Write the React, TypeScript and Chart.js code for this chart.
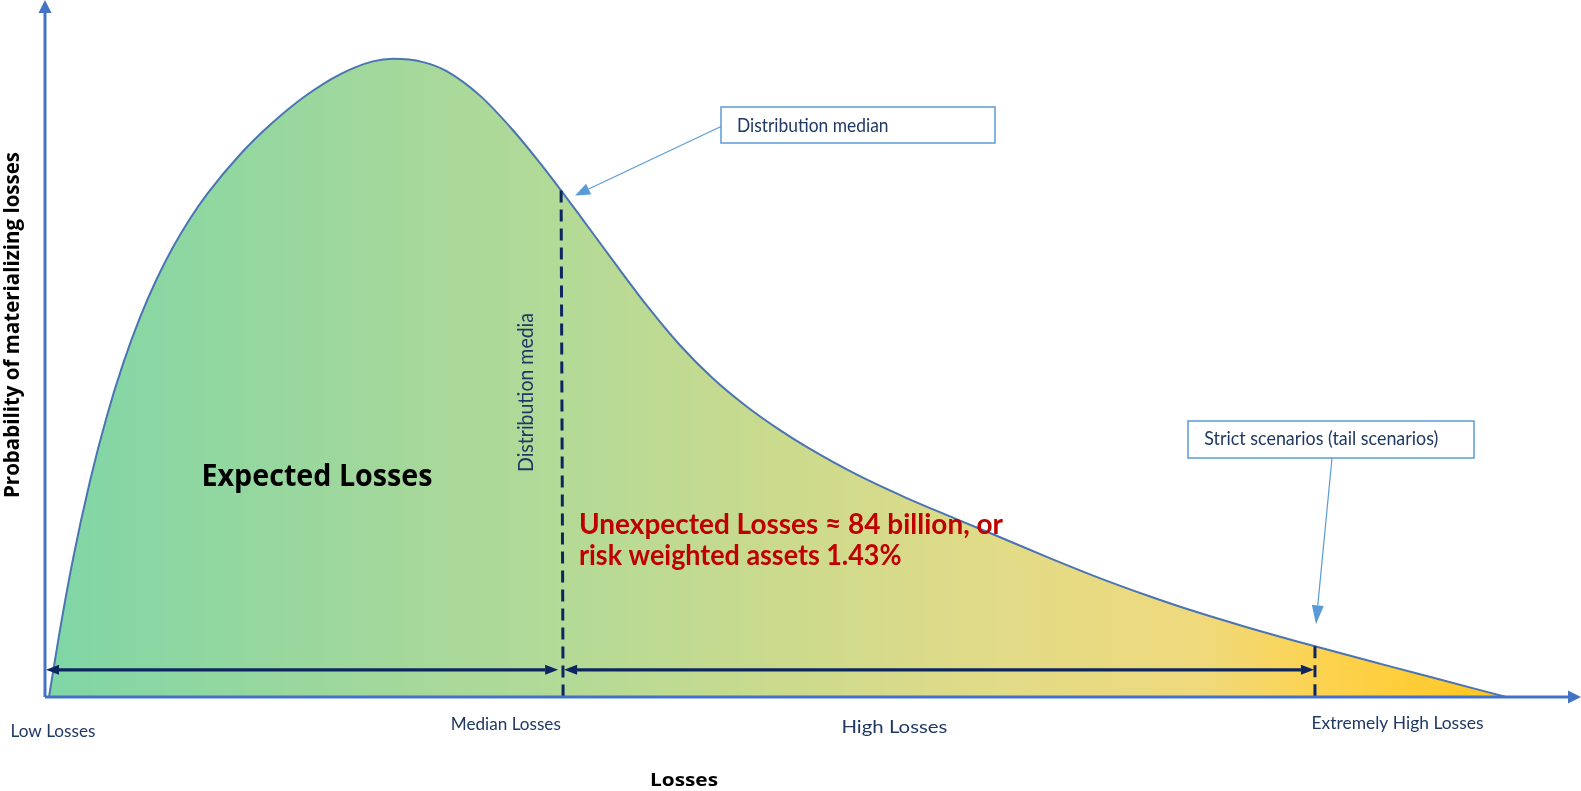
import React, { useEffect, useRef } from "react";
import { Chart, registerables } from "chart.js";

Chart.register(...registerables);

// ---- Data (loss level vs. probability of materializing losses) ----
const lossLevels = [
  0.26, 0.98, 1.82, 2.93, 4.04, 5.08, 6.18, 7.29, 8.33, 9.44, 10.55, 12.7, 14.84, 17.06, 19.21, 21.35, 22.66,
  24.61, 26.17, 28.32, 30.47, 32.23, 33.53, 34.83, 36.98, 39.19, 41.34, 43.49, 45.7, 47.85, 49.67, 52.86,
  55.99, 59.18, 62.3, 65.49, 68.62, 71.81, 74.93, 78.13, 82.68, 87.57, 90.76, 95.12,
];
const lossProbability = [
  0, 9.7, 19.77, 30.99, 40.39, 47.79, 54.43, 60.04, 64.52, 68.61, 72.15, 77.83, 82.45, 86.4, 89.34, 91.19, 91.56,
  91.09, 89.77, 86.28, 81.31, 76.59, 72.88, 69.04, 62.6, 56.15, 50.47, 45.7, 41.65, 38.29, 35.77, 31.89,
  28.65, 25.67, 22.81, 19.86, 17.1, 14.53, 12.22, 10.09, 7.27, 4.39, 2.54, 0,
];
const tickLabels = ["Low Losses", "Median Losses", "High Losses", "Extremely High Losses"];
const tickLosses = [0.52, 30.0, 55.3, 88.05];
const medianLoss = 33.6;
const tailLoss = 82.68;
const arrowLevel = 3.9;

const xAxisTitle = "Losses";
const yAxisTitle = "Probability of materializing losses";
const expectedLabel = "Expected Losses";
const unexpectedLines = ["Unexpected Losses \u2248 84 billion, or", "risk weighted assets 1.43%"];
const medianLineLabel = "Distribution media";
const medianCallout = "Distribution median";
const tailCallout = "Strict scenarios (tail scenarios)";

// ---- Styles ----
const W = 1581;
const H = 791;
const AXIS = "#4472C4";
const NAVY = "#0E2660";
const LABEL = "#1F3864";
const CALLOUT = "#5B9BD5";
const RED = "#C00000";
const LATO = "Lato, 'Open Sans', sans-serif";
const OPEN = "'Open Sans', Lato, sans-serif";
const tickStyle = [
  { width: 85, baseline: 736.5 },
  { width: 110, baseline: 730 },
  { width: 106, baseline: 733 },
  { width: 172, baseline: 728.5 },
];

function curveAt(x: number): number {
  for (let i = 0; i < lossLevels.length - 1; i++) {
    const a = lossLevels[i];
    const b = lossLevels[i + 1];
    if (x >= a && x <= b) {
      const t = (x - a) / (b - a);
      return lossProbability[i] + t * (lossProbability[i + 1] - lossProbability[i]);
    }
  }
  return 0;
}

type TextOpts = {
  size: number;
  weight: number;
  family: string;
  color: string;
  width?: number;
  align?: "left" | "center";
  rotate?: number;
};

function drawText(ctx: CanvasRenderingContext2D, text: string, x: number, y: number, o: TextOpts) {
  ctx.save();
  ctx.font = `${o.weight} ${o.size}px ${o.family}`;
  ctx.fillStyle = o.color;
  ctx.textAlign = "left";
  ctx.textBaseline = "alphabetic";
  const w = ctx.measureText(text).width;
  const sx = o.width ? o.width / w : 1;
  ctx.translate(x, y);
  if (o.rotate) ctx.rotate(o.rotate);
  ctx.scale(sx, 1);
  const off = o.align === "center" ? -w / 2 : 0;
  ctx.fillText(text, off, 0);
  ctx.restore();
}

function arrowHead(
  ctx: CanvasRenderingContext2D,
  fx: number,
  fy: number,
  tx: number,
  ty: number,
  len: number,
  half: number,
  color: string
) {
  const ang = Math.atan2(ty - fy, tx - fx);
  const bx = tx - len * Math.cos(ang);
  const by = ty - len * Math.sin(ang);
  const nx = -Math.sin(ang) * half;
  const ny = Math.cos(ang) * half;
  ctx.beginPath();
  ctx.moveTo(tx, ty);
  ctx.lineTo(bx + nx, by + ny);
  ctx.lineTo(bx - nx, by - ny);
  ctx.closePath();
  ctx.fillStyle = color;
  ctx.fill();
  return [bx, by];
}

function arrow(
  ctx: CanvasRenderingContext2D,
  fx: number,
  fy: number,
  tx: number,
  ty: number,
  len: number,
  half: number,
  color: string,
  lw: number,
  both = false
) {
  ctx.save();
  const [bx, by] = arrowHead(ctx, fx, fy, tx, ty, len, half, color);
  let sx = fx;
  let sy = fy;
  if (both) {
    const r = arrowHead(ctx, tx, ty, fx, fy, len, half, color);
    sx = r[0];
    sy = r[1];
  }
  ctx.beginPath();
  ctx.moveTo(sx, sy);
  ctx.lineTo(bx, by);
  ctx.strokeStyle = color;
  ctx.lineWidth = lw;
  ctx.stroke();
  ctx.restore();
}

const decorPlugin = {
  id: "decor",
  afterDatasetsDraw(chart: any) {
    const ctx: CanvasRenderingContext2D = chart.ctx;
    const xs = chart.scales.x;
    const ys = chart.scales.y;
    const x0 = xs.getPixelForValue(0);
    const yb = ys.getPixelForValue(0);

    // dashed lines (median and tail)
    const medX = xs.getPixelForValue(medianLoss);
    const medTop = ys.getPixelForValue(curveAt(medianLoss));
    const tailX = xs.getPixelForValue(tailLoss);
    const tailTop = ys.getPixelForValue(curveAt(tailLoss));
    ctx.save();
    ctx.strokeStyle = NAVY;
    ctx.lineWidth = 3;
    ctx.setLineDash([12, 7]);
    ctx.beginPath();
    ctx.moveTo(medX, medTop);
    ctx.lineTo(medX + 2, yb);
    ctx.moveTo(tailX, tailTop);
    ctx.lineTo(tailX, yb);
    ctx.stroke();
    ctx.restore();

    // double arrows
    const ay = ys.getPixelForValue(arrowLevel);
    arrow(ctx, x0 + 1, ay, medX - 3, ay, 13, 5, NAVY, 3.2, true);
    arrow(ctx, medX + 3, ay, tailX - 1, ay, 13, 5, NAVY, 3.2, true);

    // axes
    ctx.save();
    ctx.strokeStyle = AXIS;
    ctx.lineWidth = 3;
    ctx.beginPath();
    ctx.moveTo(x0, yb);
    ctx.lineTo(x0, 12);
    ctx.moveTo(x0, yb);
    ctx.lineTo(W - 12, yb);
    ctx.stroke();
    ctx.restore();
    arrowHead(ctx, x0, yb, x0, 0, 13, 6.5, AXIS);
    arrowHead(ctx, x0, yb, W, yb, 13, 6.5, AXIS);

    // callout boxes
    ctx.save();
    ctx.strokeStyle = CALLOUT;
    ctx.lineWidth = 1.5;
    ctx.fillStyle = "#ffffff";
    ctx.fillRect(721, 107, 274, 36);
    ctx.strokeRect(721, 107, 274, 36);
    ctx.fillRect(1188, 421, 286, 37);
    ctx.strokeRect(1188, 421, 286, 37);
    ctx.restore();
    arrow(ctx, 721, 126.5, medX + 14, medTop + 5, 15, 6, CALLOUT, 1.2);
    arrow(ctx, 1332, 458, tailX + 1, tailTop - 22, 19, 6, CALLOUT, 1.2);

    drawText(ctx, medianCallout, 737, 132.3, { size: 19, weight: 400, family: LATO, color: LABEL, width: 151.5 });
    drawText(ctx, tailCallout, 1204.3, 445, { size: 19, weight: 400, family: LATO, color: LABEL, width: 234 });

    // in-chart text
    drawText(ctx, expectedLabel, 201.5, 485.7, { size: 31, weight: 700, family: OPEN, color: "#000000", width: 231 });
    drawText(ctx, unexpectedLines[0], 579, 534, { size: 28, weight: 700, family: LATO, color: RED, width: 424 });
    drawText(ctx, unexpectedLines[1], 579, 565, { size: 28, weight: 700, family: LATO, color: RED, width: 322.5 });
    drawText(ctx, medianLineLabel, 533.3, 472, {
      size: 20.5,
      weight: 400,
      family: LATO,
      color: LABEL,
      width: 159,
      rotate: -Math.PI / 2,
    });

    // bottom labels
    tickLabels.forEach((t, i) => {
      const px = xs.getPixelForValue(tickLosses[i]);
      drawText(ctx, t, px, tickStyle[i].baseline, {
        size: 17,
        weight: 400,
        family: LATO,
        color: LABEL,
        width: tickStyle[i].width,
        align: "center",
      });
    });

    // axis titles
    drawText(ctx, xAxisTitle, 650, 786, { size: 18.5, weight: 700, family: OPEN, color: "#000000", width: 68 });
    drawText(ctx, yAxisTitle, 18.5, 498, {
      size: 21,
      weight: 700,
      family: OPEN,
      color: "#000000",
      width: 346,
      rotate: -Math.PI / 2,
    });
  },
};

export default function App() {
  const ref = useRef<HTMLCanvasElement | null>(null);

  useEffect(() => {
    document.body.style.margin = "0";
    const canvas = ref.current;
    if (!canvas) return;
    const chart = new Chart(canvas, {
      type: "line",
      data: {
        datasets: [
          {
            label: "Loss distribution",
            data: lossLevels.map((x, i) => ({ x, y: lossProbability[i] })),
            borderColor: "#4A74B2",
            borderWidth: 2,
            pointRadius: 0,
            cubicInterpolationMode: "monotone",
            fill: "origin",
            clip: false as any,
            backgroundColor: (c: any) => {
              const { ctx, chartArea } = c.chart;
              if (!chartArea) return "rgba(0,0,0,0)";
              const g = ctx.createLinearGradient(chartArea.left, 0, chartArea.right, 0);
              g.addColorStop(0, "#7FD6A6");
              g.addColorStop(0.231, "#A4D89B");
              g.addColorStop(0.335, "#B3DA97");
              g.addColorStop(0.466, "#C9DA8E");
              g.addColorStop(0.622, "#E2DB87");
              g.addColorStop(0.752, "#EFD97C");
              g.addColorStop(0.83, "#FCD350");
              g.addColorStop(0.947, "#FFC620");
              g.addColorStop(1, "#FFC418");
              return g;
            },
          },
        ],
      },
      options: {
        responsive: false,
        animation: false,
        devicePixelRatio: 1,
        layout: { padding: { left: 45, right: 0, top: 0, bottom: 94 } },
        scales: {
          x: { type: "linear", min: 0, max: 100, display: false },
          y: { min: 0, max: 100, display: false },
        },
        plugins: {
          legend: { display: false },
          tooltip: { enabled: false },
          title: { display: false },
        },
      },
      plugins: [decorPlugin],
    });
    return () => chart.destroy();
  }, []);

  return (
    <div style={{ width: W, height: H }}>
      <canvas ref={ref} width={W} height={H} style={{ display: "block" }} />
    </div>
  );
}
